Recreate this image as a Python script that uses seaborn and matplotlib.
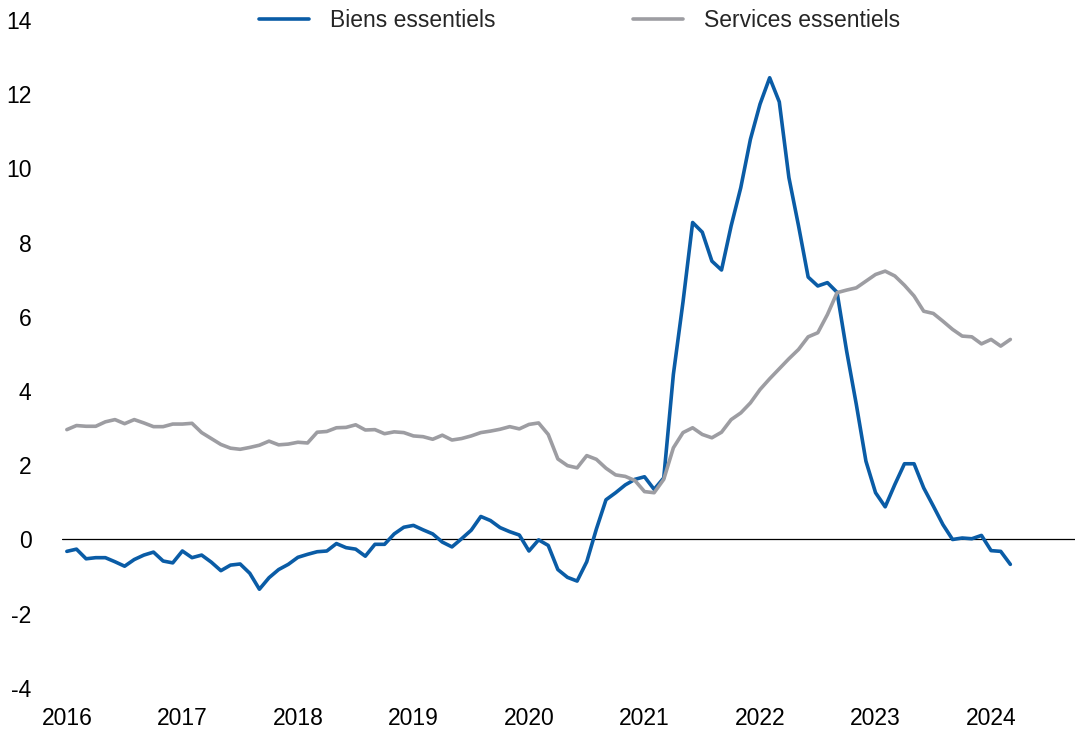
"""Inflation des biens et services essentiels, glissement annuel (%), 2016-2024."""
import pandas as pd
import seaborn as sns
import matplotlib.pyplot as plt

# une valeur par mois, de janvier 2016 a mars 2024
biens = [-0.32, -0.26, -0.52, -0.49, -0.49, -0.60, -0.72, -0.54, -0.42, -0.34, -0.58, -0.63,
         -0.31, -0.49, -0.42, -0.61, -0.84, -0.69, -0.66, -0.91, -1.34, -1.03, -0.81, -0.67,
         -0.48, -0.40, -0.33, -0.31, -0.11, -0.22, -0.26, -0.45, -0.13, -0.13, 0.15, 0.33,
         0.38, 0.26, 0.15, -0.07, -0.20, 0.02, 0.25, 0.62, 0.51, 0.32, 0.21, 0.12,
         -0.31, -0.01, -0.16, -0.81, -1.02, -1.12, -0.60, 0.28, 1.07, 1.26, 1.47, 1.62,
         1.69, 1.35, 1.66, 4.45, 6.40, 8.54, 8.28, 7.50, 7.26, 8.45, 9.48, 10.78,
         11.73, 12.44, 11.79, 9.75, 8.45, 7.07, 6.83, 6.92, 6.66, 5.07, 3.64, 2.11,
         1.26, 0.88, 1.48, 2.04, 2.04, 1.39, 0.90, 0.40, 0.00, 0.04, 0.02, 0.11,
         -0.30, -0.32, -0.67]

services = [2.96, 3.07, 3.05, 3.05, 3.17, 3.23, 3.12, 3.23, 3.14, 3.04, 3.04, 3.11,
            3.11, 3.13, 2.88, 2.72, 2.56, 2.46, 2.43, 2.48, 2.54, 2.65, 2.55, 2.57,
            2.62, 2.60, 2.89, 2.91, 3.01, 3.02, 3.09, 2.95, 2.96, 2.85, 2.90, 2.88,
            2.79, 2.77, 2.70, 2.81, 2.68, 2.72, 2.79, 2.88, 2.92, 2.97, 3.04, 2.98,
            3.10, 3.14, 2.83, 2.17, 1.99, 1.93, 2.26, 2.16, 1.92, 1.74, 1.70, 1.59,
            1.29, 1.26, 1.62, 2.47, 2.88, 3.01, 2.83, 2.74, 2.89, 3.23, 3.41, 3.68,
            4.04, 4.33, 4.60, 4.87, 5.12, 5.46, 5.57, 6.06, 6.65, 6.72, 6.78, 6.96,
            7.14, 7.23, 7.10, 6.85, 6.56, 6.15, 6.09, 5.88, 5.66, 5.48, 5.46, 5.27,
            5.39, 5.21, 5.39]

annees = ['2016', '2017', '2018', '2019', '2020', '2021', '2022', '2023', '2024']
series = ['Biens essentiels', 'Services essentiels']

n = len(biens)
df = pd.DataFrame({
    'mois': list(range(n)) * 2,
    'valeur': biens + services,
    'serie': [series[0]] * n + [series[1]] * n,
})

sns.set_theme(style='white')
plt.rcParams['font.family'] = ['Liberation Sans', 'DejaVu Sans']

fig = plt.figure(figsize=(10.77, 7.35), dpi=100)
ax = fig.add_axes([0.0576, 0.064, 0.9404, 0.909])

ax.axhline(0, color='black', lw=0.9, zorder=1)
sns.lineplot(data=df, x='mois', y='valeur', hue='serie',
             palette={series[0]: '#0a5ca6', series[1]: '#9d9da2'},
             linewidth=2.6, ax=ax, zorder=2)

ax.set_xlim(-0.5, 104.7)
ax.set_ylim(-4, 14)
ax.set_yticks(range(-4, 15, 2))
ax.set_yticklabels([str(v) for v in range(-4, 15, 2)])
ax.set_xticks(range(0, 12 * len(annees), 12))
ax.set_xticklabels(annees)
ax.tick_params(axis='both', length=0, labelsize=16.5, colors='black')
ax.tick_params(axis='y', pad=22)
ax.tick_params(axis='x', pad=14)
ax.set_xlabel('')
ax.set_ylabel('')
sns.despine(ax=ax, left=True, bottom=True)

ax.legend(loc='center', bbox_to_anchor=(0.538, 0.972), bbox_transform=fig.transFigure,
          ncol=2, frameon=False, fontsize=16.5, handlelength=2.2, handletextpad=0.9,
          columnspacing=6.0)

fig.savefig('out.png', dpi=100, facecolor='white')
